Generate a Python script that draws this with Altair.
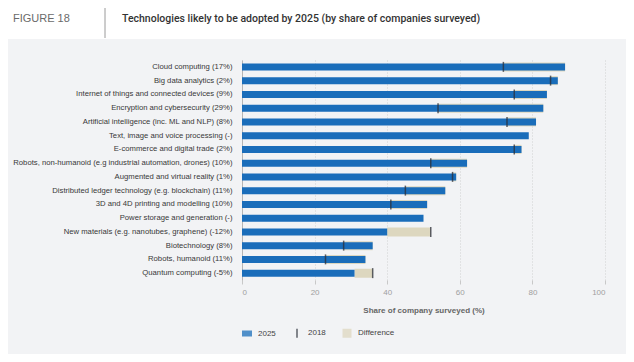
import altair as alt
import pandas as pd

figure_label = "FIGURE 18"
title_text = "Technologies likely to be adopted by 2025 (by share of companies surveyed)"
x_title = "Share of company surveyed (%)"

categories = [
    "Cloud computing (17%)",
    "Big data analytics (2%)",
    "Internet of things and connected devices (9%)",
    "Encryption and cybersecurity (29%)",
    "Artificial intelligence (inc. ML and NLP) (8%)",
    "Text, image and voice processing (-)",
    "E-commerce and digital trade (2%)",
    "Robots, non-humanoid (e.g industrial automation, drones) (10%)",
    "Augmented and virtual reality (1%)",
    "Distributed ledger technology (e.g. blockchain) (11%)",
    "3D and 4D printing and modelling (10%)",
    "Power storage and generation (-)",
    "New materials (e.g. nanotubes, graphene) (-12%)",
    "Biotechnology (8%)",
    "Robots, humanoid (11%)",
    "Quantum computing (-5%)",
]
adopt_2025 = [89, 87, 84, 83, 81, 79, 77, 62, 59, 56, 51, 50, 40, 36, 34, 31]
adopt_2018 = [72, 85, 75, 54, 73, None, 75, 52, 58, 45, 41, None, 52, 28, 23, 36]
x_ticks = [0, 20, 40, 60, 80, 100]

series_names = ["2025", "2018", "Difference"]
series_colors = ["#1a6dba", "#2b2f38", "#ddd7bf"]
series_shapes = ["M-1,-0.6H1V0.6H-1Z", "M-0.15,-0.9H0.15V0.9H-0.15Z", "M-0.9,-0.9H0.9V0.9H-0.9Z"]

df = pd.DataFrame({"tech": categories, "v2025": adopt_2025, "v2018": adopt_2018})
df_diff = df.dropna().copy()
df_diff["lo"] = df_diff[["v2025", "v2018"]].min(axis=1)
df_diff["hi"] = df_diff[["v2025", "v2018"]].max(axis=1)
df_2018 = df.dropna()
df_series = pd.DataFrame({"series": series_names})

FONT = "Liberation Sans"

color_scale = alt.Scale(domain=series_names, range=series_colors)
shape_scale = alt.Scale(domain=series_names, range=series_shapes)
legend = alt.Legend(
    title=None,
    orient="none",
    legendX=0,
    legendY=268,
    direction="horizontal",
    labelFont=FONT,
    labelFontSize=8,
    labelColor="#444444",
    symbolSize=100,
    symbolStrokeWidth=0,
    labelOffset=6,
    columnPadding=16,
)

y_enc = alt.Y(
    "tech:N",
    sort=categories,
    title=None,
    axis=alt.Axis(
        ticks=False,
        labelPadding=10,
        labelFont=FONT,
        labelFontSize=7.7,
        labelColor="#383838",
        domain=True,
        domainColor="#b5b5b5",
        labelLimit=400,
    ),
)
x_scale = alt.Scale(domain=[0, 100], nice=False)
x_axis = alt.Axis(
    values=x_ticks,
    title=x_title,
    titleFont=FONT,
    titleFontSize=8,
    titleColor="#666666",
    titleFontWeight="bold",
    titlePadding=10,
    labelFont=FONT,
    labelFontSize=8,
    labelColor="#a0a0a0",
    labelPadding=4,
    domain=False,
    grid=True,
    gridColor="#d0d0d0",
    gridDash=[1, 2],
    tickColor="#c8c8c8",
    tickSize=4,
)

diff_layer = (
    alt.Chart(df_diff)
    .mark_bar(size=9)
    .transform_calculate(series="'Difference'")
    .encode(
        y=y_enc,
        x=alt.X("lo:Q", scale=x_scale, axis=x_axis),
        x2="hi:Q",
        color=alt.Color("series:N", scale=color_scale, legend=legend),
    )
)
bar_layer = (
    alt.Chart(df)
    .mark_bar(size=7)
    .transform_calculate(series="'2025'")
    .encode(
        y=y_enc,
        x=alt.X("v2025:Q", scale=x_scale, axis=x_axis),
        color=alt.Color("series:N", scale=color_scale, legend=legend),
    )
)
tick_layer = (
    alt.Chart(df_2018)
    .mark_tick(size=10, thickness=1.5, opacity=0.75)
    .transform_calculate(series="'2018'")
    .encode(
        y=y_enc,
        x=alt.X("v2018:Q", scale=x_scale, axis=x_axis),
        color=alt.Color("series:N", scale=color_scale, legend=legend),
    )
)
# off-canvas points that only carry the legend symbols
legend_layer = (
    alt.Chart(df_series)
    .mark_point(filled=True, size=100, strokeWidth=0, opacity=1)
    .encode(
        x=alt.value(-3000),
        y=alt.value(-3000),
        color=alt.Color("series:N", scale=color_scale, legend=legend),
        shape=alt.Shape("series:N", scale=shape_scale, legend=legend),
    )
)

header_rect = (
    alt.Chart(alt.Data(values=[{"k": 1}]))
    .mark_rect(color="white")
    .encode(x=alt.value(-234), x2=alt.value(384), y=alt.value(-52), y2=alt.value(-21))
)
header_rule = (
    alt.Chart(alt.Data(values=[{"k": 1}]))
    .mark_rule(color="#9a9a9a", strokeWidth=1)
    .encode(x=alt.value(-137), y=alt.value(-52), y2=alt.value(-22))
)
fig_text = (
    alt.Chart(alt.Data(values=[{"t": figure_label}]))
    .mark_text(align="left", baseline="middle", font=FONT, fontSize=11, color="#6a6a6a")
    .encode(x=alt.value(-229), y=alt.value(-41), text="t:N")
)
title_mark = (
    alt.Chart(alt.Data(values=[{"t": title_text}]))
    .mark_text(align="left", baseline="middle", font="Roboto", fontSize=10.5,
               fontWeight=500, color="#333333")
    .encode(x=alt.value(-120), y=alt.value(-41), text="t:N")
)

chart = (
    alt.layer(header_rect, header_rule, fig_text, title_mark,
              diff_layer, bar_layer, tick_layer, legend_layer)
    .properties(
        width=363,
        height=220,
        background="#f2f3f5",
        autosize=alt.AutoSizeParams(type="none"),
        padding={"left": 234, "top": 52, "right": 21, "bottom": 74},
    )
    .configure_view(strokeWidth=0)
)

chart.save("out.html", embed_options={"renderer": "svg", "actions": False})
